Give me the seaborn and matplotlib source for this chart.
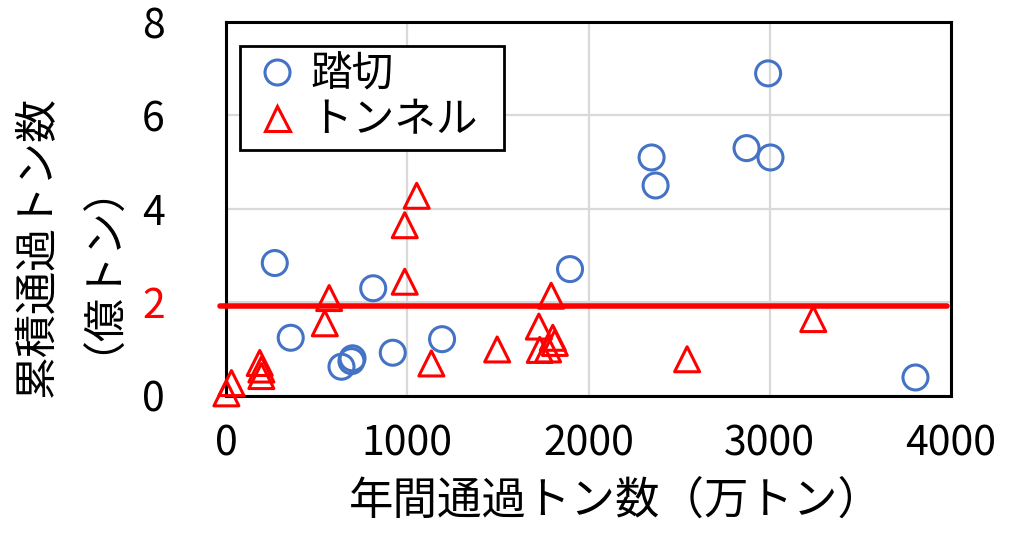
import seaborn as sns
import pandas as pd
import matplotlib.pyplot as plt
from matplotlib.lines import Line2D

# 踏切 (level crossings)
crossing_x = [269, 357, 637, 692, 698, 812, 920, 1192, 1898, 2348, 2370, 2872, 3004, 2991, 3804]
crossing_y = [2.84, 1.24, 0.62, 0.74, 0.80, 2.30, 0.92, 1.21, 2.71, 5.10, 4.50, 5.30, 5.10, 6.90, 0.39]

# トンネル (tunnels)
tunnel_x = [2, 30, 186, 195, 195, 545, 569, 986, 986, 1052, 1133, 1496,
            1731, 1726, 1777, 1803, 1814, 1794, 2544, 3240]
tunnel_y = [0.05, 0.27, 0.70, 0.56, 0.42, 1.55, 2.09, 2.44, 3.65, 4.28, 0.69, 0.99,
            0.98, 1.48, 0.99, 1.24, 1.13, 2.14, 0.78, 1.64]

# threshold line
threshold_x = [-35, 3980]
threshold_y = [1.92, 1.92]

x_ticks = [0, 1000, 2000, 3000, 4000]
y_ticks = [0, 2, 4, 6, 8]

blue = "#4472C4"
red = "#FF0000"

sns.set_style("white")
plt.rcParams['font.family'] = ['Noto Sans CJK JP', 'DejaVu Sans']
for key in ["text.color", "axes.labelcolor", "xtick.color", "ytick.color"]:
    plt.rcParams[key] = "black"

fig = plt.figure(figsize=(10.26, 5.34), dpi=100)
ax = fig.add_axes([0.2203, 0.259, 0.7066, 0.6998])

crossing = pd.DataFrame({"x": crossing_x, "y": crossing_y})
tunnel = pd.DataFrame({"x": tunnel_x, "y": tunnel_y})

sns.scatterplot(data=tunnel, x="x", y="y", marker="^", s=324, ax=ax, clip_on=False, zorder=3)
sns.scatterplot(data=crossing, x="x", y="y", marker="o", s=324, ax=ax, clip_on=False, zorder=4)
for coll, c in zip(ax.collections, [red, blue]):
    coll.set_facecolor("none")
    coll.set_edgecolor(c)
    coll.set_linewidth(2.2)

ax.plot(threshold_x, threshold_y, color=red, lw=4, clip_on=False, zorder=5)

ax.set_xlim(0, 4000)
ax.set_ylim(0, 8)
ax.set_xticks(x_ticks)
ax.set_yticks(y_ticks)
ax.tick_params(axis="both", length=0, labelsize=29.5)
ax.tick_params(axis="y", pad=44)
ax.tick_params(axis="x", pad=20)
ax.get_yticklabels()[1].set_color(red)

ax.grid(True, color="#D9D9D9", lw=1.6)
ax.set_axisbelow(True)
for sp in ax.spines.values():
    sp.set_visible(True)
    sp.set_color("black")
    sp.set_linewidth(2.2)

ax.set_xlabel("年間通過トン数（万トン）", fontsize=32)
ax.xaxis.set_label_coords(0.538, -0.22)
ax.set_ylabel("累積通過トン数\n（億トン）", fontsize=31, linespacing=0.95)
ax.yaxis.set_label_coords(-0.171, 0.398)

handles = [
    Line2D([], [], marker="o", ls="none", mfc="none", mec=blue, ms=18, mew=2.2),
    Line2D([], [], marker="^", ls="none", mfc="none", mec=red, ms=18, mew=2.2),
]
leg = ax.legend(handles, ["踏切", "トンネル  "], loc="upper left", bbox_to_anchor=(0.019, 0.936),
                borderaxespad=0, fontsize=30, frameon=True, fancybox=False, framealpha=1,
                edgecolor="black", handlelength=1.4, handletextpad=0.1, borderpad=0.2,
                labelspacing=0.12)
leg.get_frame().set_linewidth(2)

plt.savefig("out.png", dpi=100)
